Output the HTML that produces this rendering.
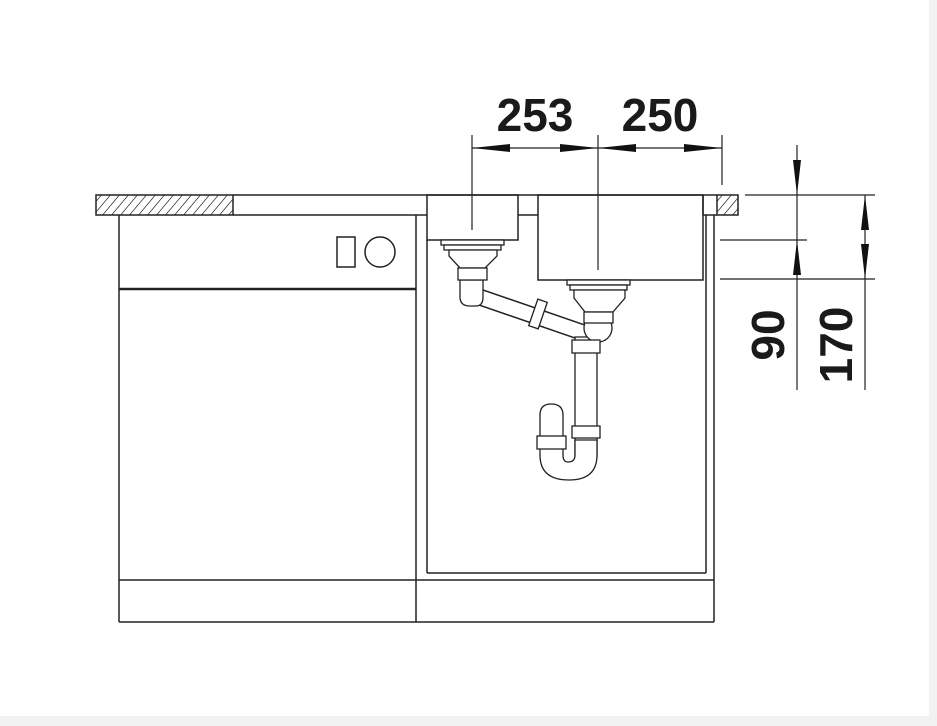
<!DOCTYPE html>
<html><head><style>
html,body{margin:0;padding:0;background:#fff;}
svg{display:block;}
text{font-family:"Liberation Sans",Arial,sans-serif;font-weight:bold;fill:#1a1a1a;}
</style></head><body>
<svg width="937" height="726" viewBox="0 0 937 726" xmlns="http://www.w3.org/2000/svg">
<defs>
<pattern id="h" patternUnits="userSpaceOnUse" width="9" height="20" patternTransform="skewX(-40)">
<line x1="4" y1="0" x2="4" y2="20" stroke="#333" stroke-width="1"/>
</pattern>
</defs>
<rect x="0" y="0" width="937" height="726" fill="#fff"/>
<rect x="0" y="716" width="937" height="10" fill="#f2f2f2"/>
<rect x="929" y="0" width="8" height="726" fill="#f2f2f2"/>
<g fill="none" stroke="#222" stroke-width="1.5">
<rect x="96" y="195" width="137" height="20" fill="url(#h)"/>
<line x1="233" y1="195" x2="703" y2="195"/>
<line x1="233" y1="215" x2="427" y2="215"/>
<line x1="518" y1="215" x2="538" y2="215"/>
<line x1="703" y1="215" x2="717" y2="215"/>
<line x1="703" y1="195" x2="703" y2="215"/>
<rect x="717" y="195" width="21" height="20" fill="url(#h)"/>
<line x1="703" y1="195" x2="717" y2="195"/>
<rect x="427" y="195" width="91" height="45"/>
<rect x="538" y="195" width="165" height="85"/>
<line x1="119" y1="215" x2="119" y2="622"/>
<line x1="416" y1="215" x2="416" y2="622"/>
<line x1="714" y1="215" x2="714" y2="622"/>
<line x1="706" y1="215" x2="706" y2="573"/>
<line x1="427" y1="240" x2="427" y2="573"/>
<line x1="427" y1="573" x2="706" y2="573"/>
<line x1="119" y1="580" x2="714" y2="580"/>
<line x1="119" y1="622" x2="714" y2="622"/>
<line x1="119" y1="289" x2="416" y2="289" stroke-width="2.5"/>
<rect x="337" y="237" width="18" height="30"/>
<circle cx="380" cy="252" r="15"/>
<line x1="472" y1="135" x2="472" y2="230" stroke-width="1.2"/>
<line x1="598" y1="135" x2="598" y2="270" stroke-width="1.2"/>
<line x1="722" y1="135" x2="722" y2="185" stroke-width="1.2"/>
<line x1="472" y1="148" x2="722" y2="148" stroke-width="1.2"/>
<line x1="745" y1="195" x2="875" y2="195" stroke-width="1.2"/>
<line x1="720" y1="240" x2="807" y2="240" stroke-width="1.2"/>
<line x1="720" y1="279" x2="875" y2="279" stroke-width="1.2"/>
<line x1="797" y1="145" x2="797" y2="390" stroke-width="1.2"/>
<line x1="865" y1="195" x2="865" y2="390" stroke-width="1.2"/>
</g>
<g fill="#111">
<polygon points="472,148 510,144 510,152"/>
<polygon points="598,148 560,144 560,152"/>
<polygon points="598,148 636,144 636,152"/>
<polygon points="722,148 684,144 684,152"/>
<polygon points="797,195 793,160 801,160"/>
<polygon points="797,240 793,275 801,275"/>
<polygon points="865,195 861,230 869,230"/>
<polygon points="865,279 861,244 869,244"/>
</g>
<text x="535" y="131" font-size="46" text-anchor="middle">253</text>
<text x="660" y="131" font-size="46" text-anchor="middle">250</text>
<text transform="translate(784,335) rotate(-90)" font-size="46" text-anchor="middle">90</text>
<text transform="translate(852,345) rotate(-90)" font-size="46" text-anchor="middle">170</text>
<g fill="#fff" stroke="#222" stroke-width="1.3">
<rect x="441" y="240" width="63" height="5"/>
<rect x="444" y="245" width="57" height="5"/>
<polygon points="449,250 497,250 497,256 485,268 460,268 449,256"/>
</g>
<line x1="468" y1="293" x2="590" y2="335" stroke="#222" stroke-width="17"/>
<line x1="468" y1="293" x2="590" y2="335" stroke="#fff" stroke-width="14"/>
<g fill="#fff" stroke="#222" stroke-width="1.3">
<path d="M460,280 L460,297 Q460,306 470,306 L476,306 Q483,306 483,297 L483,280 Z"/>
<rect x="458" y="268" width="29" height="12"/>
<rect x="533" y="300" width="10" height="28" transform="rotate(19 538 314)"/>
<rect x="567" y="280" width="63" height="5"/>
<rect x="570" y="285" width="57" height="5"/>
<polygon points="574,290 625,290 625,298 613,312 585,312 574,298"/>
<rect x="575" y="337" width="22" height="120"/>
<circle cx="598" cy="328" r="14"/>
<rect x="584" y="312" width="29" height="11"/>
<rect x="572" y="340" width="28" height="13"/>
<rect x="572" y="426" width="28" height="12"/>
<path d="M540,415 Q540,404 551,404 Q563,404 563,415 L563,455 Q563,462 568,462 Q575,462 575,455 L575,440 L597,440 L597,455 Q597,480 569,480 Q540,480 540,455 Z"/>
<rect x="537" y="436" width="29" height="13"/>
</g>
</svg>
</body></html>
